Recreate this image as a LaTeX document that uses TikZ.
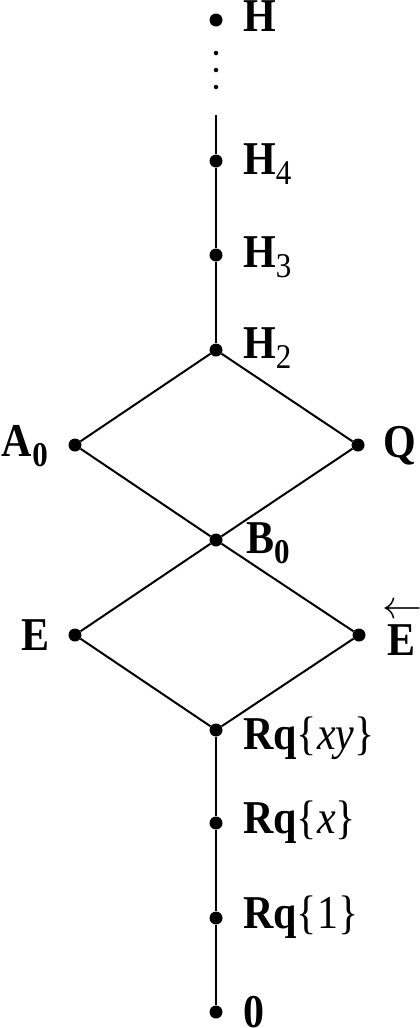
\documentclass[tikz,border=0pt]{standalone}
\usepackage{fontspec}
\setmainfont{Liberation Serif}
\usepackage{graphicx}
\newcommand{\sbr}[1]{\raisebox{-9pt}{\fontsize{31}{33}\selectfont #1}}
\newcommand{\st}[1]{\scalebox{1}[1.12]{#1}}
\begin{document}
\begin{tikzpicture}[x=1pt,y=-1pt,
  dot/.style={circle,fill=black,inner sep=0pt,minimum size=13pt},
  edot/.style={circle,fill=black,inner sep=0pt,minimum size=4.5pt},
  lbl/.style={inner sep=0pt,font=\fontsize{42}{48}\selectfont},
  ln/.style={line width=2pt}]
\useasboundingbox (0,0) rectangle (420,1028);
% dots
\node[dot] (H) at (216,20) {};
\node[edot] (e1) at (216,53) {};
\node[edot] (e2) at (216,70) {};
\node[edot] (e3) at (216,87) {};
\coordinate (top) at (216,115);
\node[dot] (H4) at (216,161) {};
\node[dot] (H3) at (216,255) {};
\node[dot] (H2) at (216,350) {};
\node[dot] (A0) at (75,445) {};
\node[dot] (Q) at (358,445) {};
\node[dot] (B0) at (216,540) {};
\node[dot] (E) at (75,635) {};
\node[dot] (Eb) at (359,635) {};
\node[dot] (R2) at (216,730) {};
\node[dot] (R1) at (216,823) {};
\node[dot] (R0) at (216,918) {};
\node[dot] (Z) at (216,1012) {};
% edges
\draw[ln] (top) -- (H4) -- (H3) -- (H2);
\draw[ln] (H2) -- (A0) -- (B0) -- (Q) -- (H2);
\draw[ln] (B0) -- (E) -- (R2) -- (Eb) -- (B0);
\draw[ln] (R2) -- (R1) -- (R0) -- (Z);
% labels
\node[lbl,anchor=base west] (lH) at (243,31) {\st{\textbf{H}}};
\node[lbl,anchor=base west] (lH4) at (243,174) {\st{\textbf{H}\sbr{4}}};
\node[lbl,anchor=base west] (lH3) at (243,267) {\st{\textbf{H}\sbr{3}}};
\node[lbl,anchor=base west] (lH2) at (243,358) {\st{\textbf{H}\sbr{2}}};
\node[lbl,anchor=base east] (lA0) at (48,456) {\st{\textbf{A}\sbr{\bfseries 0}}};
\node[lbl,anchor=base west] (lQ) at (383,457) {\st{\textbf{Q}}};
\node[lbl,anchor=base west] (lB0) at (246,553) {\st{\textbf{B}\sbr{\bfseries 0}}};
\node[lbl,anchor=base east] (lE) at (50,650) {\st{\textbf{E}}};
\node[lbl,anchor=base west] (lEb) at (387,655) {\rlap{\hspace{-5pt}\raisebox{37pt}{\resizebox{40pt}{!}{$\leftarrow$}}}\st{\textbf{E}}};
\node[lbl,anchor=base west] (lR2) at (243,749) {\st{\textbf{Rq}\{\textit{xy}\}}};
\node[lbl,anchor=base west] (lR1) at (243,833) {\st{\textbf{Rq}\{\textit{x}\}}};
\node[lbl,anchor=base west] (lR0) at (243,928) {\st{\textbf{Rq}\{1\}}};
\node[lbl,anchor=base west] (lZ) at (243,1027) {\st{\textbf{0}}};
\end{tikzpicture}
\end{document}
